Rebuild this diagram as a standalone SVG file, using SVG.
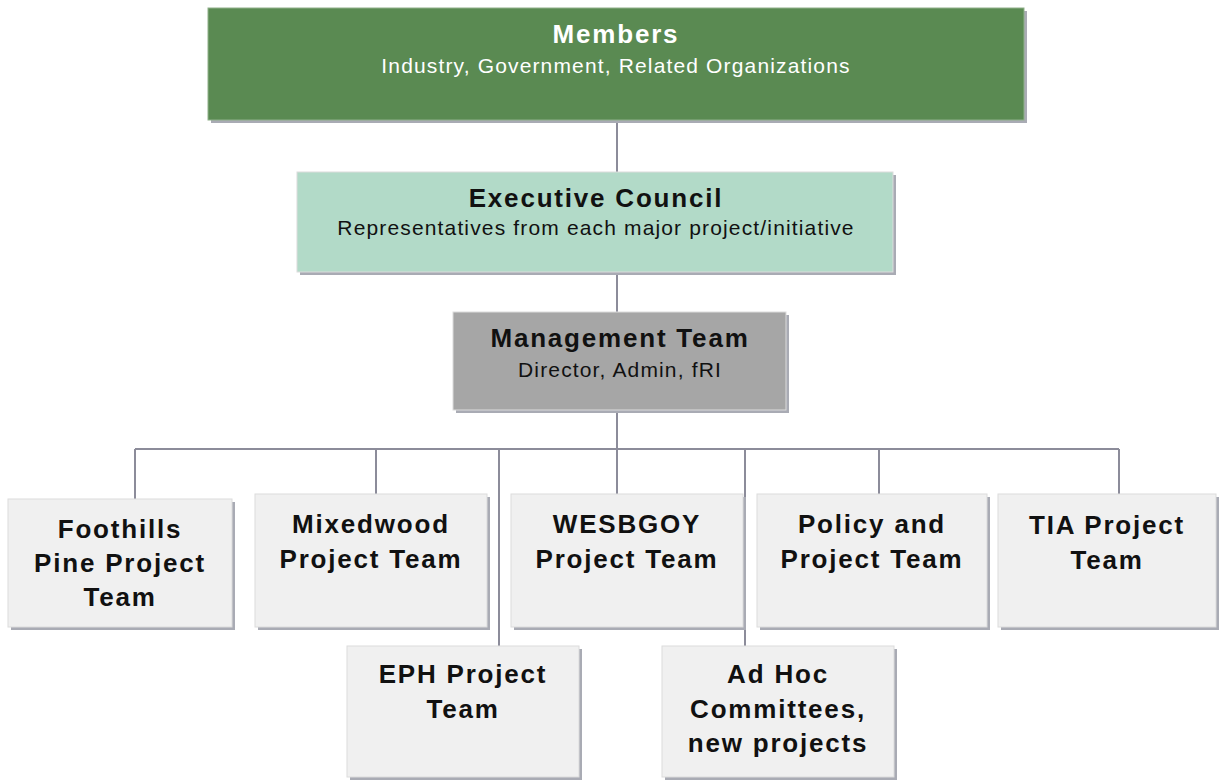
<svg xmlns="http://www.w3.org/2000/svg" width="1222" height="780" viewBox="0 0 1222 780">
<style>
.sh{fill:#a9abb4}
.box{stroke:#dcdcdc;stroke-width:1}
.child{fill:#f0f0f0}
.t{font-family:"Liberation Sans",Arial,sans-serif;font-weight:bold;font-size:26px;letter-spacing:1.8px;text-anchor:middle;fill:#111}
.s{font-family:"Liberation Sans",Arial,sans-serif;font-size:21px;letter-spacing:1.15px;text-anchor:middle;fill:#111}
.w{fill:#ffffff}
.c{stroke:#8c8c9a;stroke-width:2;fill:none}
</style>
<rect width="1222" height="780" fill="#ffffff"/>
<g id="connectors">
<path class="c" d="M617 122V172M617 272V312M617 410V449M135 449H1119M135 449V499M376 449V494M499 449V646M617 449V494M745 449V646M879 449V494M1119 449V494"/>
</g>
<g id="members">
<rect class="sh" x="211" y="11" width="816" height="112"/>
<rect x="208" y="8" width="816" height="112" fill="#5a8a52" stroke="#8fb08a" stroke-width="1"/>
<text class="t w" x="616" y="43">Members</text>
<text class="s w" x="616" y="73">Industry, Government, Related Organizations</text>
</g>
<g id="executive">
<rect class="sh" x="300" y="175" width="596" height="100"/>
<rect class="box" x="297" y="172" width="596" height="100" fill="#b2dac8"/>
<text class="t" x="596" y="207">Executive Council</text>
<text class="s" x="596" y="235">Representatives from each major project/initiative</text>
</g>
<g id="management">
<rect class="sh" x="456" y="315" width="333" height="98"/>
<rect class="box" x="453" y="312" width="333" height="98" fill="#a6a6a6"/>
<text class="t" x="620" y="347">Management Team</text>
<text class="s" x="620" y="377">Director, Admin, fRI</text>
</g>
<g id="foothills">
<rect class="sh" x="11" y="502" width="224" height="128"/>
<rect class="box child" x="8" y="499" width="224" height="128"/>
<text class="t" x="120" y="538">Foothills</text>
<text class="t" x="120" y="572">Pine Project</text>
<text class="t" x="120" y="606">Team</text>
</g>
<g id="mixedwood">
<rect class="sh" x="258" y="497" width="232" height="133"/>
<rect class="box child" x="255" y="494" width="232" height="133"/>
<text class="t" x="371" y="533">Mixedwood</text>
<text class="t" x="371" y="568">Project Team</text>
</g>
<g id="wesbgoy">
<rect class="sh" x="514" y="497" width="232" height="133"/>
<rect class="box child" x="511" y="494" width="232" height="133"/>
<text class="t" x="627" y="533">WESBGOY</text>
<text class="t" x="627" y="568">Project Team</text>
</g>
<g id="policy">
<rect class="sh" x="760" y="497" width="230" height="133"/>
<rect class="box child" x="757" y="494" width="230" height="133"/>
<text class="t" x="872" y="533">Policy and</text>
<text class="t" x="872" y="568">Project Team</text>
</g>
<g id="tia">
<rect class="sh" x="1001" y="497" width="218" height="133"/>
<rect class="box child" x="998" y="494" width="218" height="133"/>
<text class="t" x="1107" y="534">TIA Project</text>
<text class="t" x="1107" y="569">Team</text>
</g>
<g id="eph">
<rect class="sh" x="350" y="649" width="232" height="131"/>
<rect class="box child" x="347" y="646" width="232" height="131"/>
<text class="t" x="463" y="683">EPH Project</text>
<text class="t" x="463" y="718">Team</text>
</g>
<g id="adhoc">
<rect class="sh" x="665" y="649" width="232" height="131"/>
<rect class="box child" x="662" y="646" width="232" height="131"/>
<text class="t" x="778" y="683">Ad Hoc</text>
<text class="t" x="778" y="718">Committees,</text>
<text class="t" x="778" y="752">new projects</text>
</g>
</svg>
